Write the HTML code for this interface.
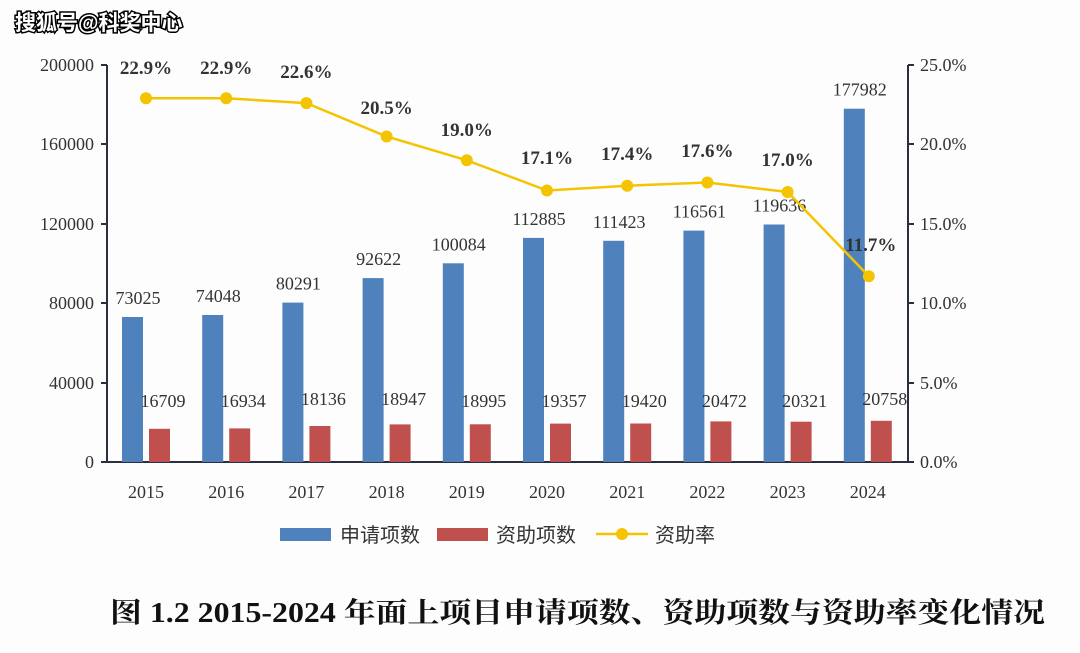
<!DOCTYPE html>
<html><head><meta charset="utf-8"><style>
body{margin:0;background:#fff;}
svg{display:block;}
</style></head><body>
<svg width="1080" height="653" xmlns="http://www.w3.org/2000/svg" font-family="'Liberation Serif','Noto Serif CJK SC',serif">
<rect width="1080" height="653" fill="#fdfdfd"/>
<text x="15" y="30" font-family="'Liberation Sans','Noto Sans CJK SC',sans-serif" font-size="21" font-weight="bold" fill="#fff" stroke="#000" stroke-width="3" paint-order="stroke">搜狐号@科奖中心</text>
<g stroke="#2b3040" stroke-width="2" fill="none">
<path d="M107,65 V462 H908 V65"/>
<path d="M101,65H107M101,144H107M101,224H107M101,303H107M101,383H107M101,462H107"/>
<path d="M908,65H914M908,144H914M908,224H914M908,303H914M908,383H914M908,462H914"/>
</g>
<g font-size="18" fill="#333" text-anchor="end">
<text x="94" y="71">200000</text><text x="94" y="150">160000</text><text x="94" y="230">120000</text>
<text x="94" y="309">80000</text><text x="94" y="389">40000</text><text x="94" y="468">0</text>
</g>
<g font-size="18" fill="#333">
<text x="920" y="71">25.0%</text><text x="920" y="150">20.0%</text><text x="920" y="230">15.0%</text>
<text x="920" y="309">10.0%</text><text x="920" y="389">5.0%</text><text x="920" y="468">0.0%</text>
</g>
<g fill="#4f81bd">
<rect x="122" y="317" width="21" height="145"/>
<rect x="202.2" y="315" width="21" height="147"/>
<rect x="282.4" y="302.6" width="21" height="159.4"/>
<rect x="362.6" y="278.1" width="21" height="183.9"/>
<rect x="442.8" y="263.3" width="21" height="198.7"/>
<rect x="523" y="237.9" width="21" height="224.1"/>
<rect x="603.2" y="240.8" width="21" height="221.2"/>
<rect x="683.4" y="230.6" width="21" height="231.4"/>
<rect x="763.6" y="224.5" width="21" height="237.5"/>
<rect x="843.8" y="108.7" width="21" height="353.3"/>
</g>
<g fill="#c0504d">
<rect x="149" y="428.8" width="21" height="33.2"/>
<rect x="229.2" y="428.4" width="21" height="33.6"/>
<rect x="309.4" y="426" width="21" height="36"/>
<rect x="389.6" y="424.4" width="21" height="37.6"/>
<rect x="469.8" y="424.3" width="21" height="37.7"/>
<rect x="550" y="423.6" width="21" height="38.4"/>
<rect x="630.2" y="423.5" width="21" height="38.5"/>
<rect x="710.4" y="421.4" width="21" height="40.6"/>
<rect x="790.6" y="421.7" width="21" height="40.3"/>
<rect x="870.8" y="420.8" width="21" height="41.2"/>
</g>
<g font-size="18" fill="#333" text-anchor="middle">
<text x="138" y="304">73025</text>
<text x="218.2" y="302">74048</text>
<text x="298.4" y="289.6">80291</text>
<text x="378.6" y="265.1">92622</text>
<text x="458.8" y="250.3">100084</text>
<text x="539" y="224.9">112885</text>
<text x="619.2" y="227.8">111423</text>
<text x="699.4" y="217.6">116561</text>
<text x="779.6" y="211.5">119636</text>
<text x="859.8" y="95.7">177982</text>
<text x="163" y="407">16709</text>
<text x="243.2" y="407">16934</text>
<text x="323.4" y="405">18136</text>
<text x="403.6" y="405">18947</text>
<text x="483.8" y="407">18995</text>
<text x="564" y="407">19357</text>
<text x="644.2" y="407">19420</text>
<text x="724.4" y="407">20472</text>
<text x="804.6" y="407">20321</text>
<text x="884.8" y="405">20758</text>
<text x="146" y="498">2015</text>
<text x="226.2" y="498">2016</text>
<text x="306.4" y="498">2017</text>
<text x="386.6" y="498">2018</text>
<text x="466.8" y="498">2019</text>
<text x="547" y="498">2020</text>
<text x="627.2" y="498">2021</text>
<text x="707.4" y="498">2022</text>
<text x="787.6" y="498">2023</text>
<text x="867.8" y="498">2024</text>
</g>
<polyline points="146,98.3 226.2,98.3 306.4,103.1 386.6,136.5 466.8,160.3 547,190.5 627.2,185.7 707.4,182.5 787.6,192 868.8,276.2" fill="none" stroke="#f5c400" stroke-width="2.5"/>
<g fill="#f5c400">
<circle cx="146" cy="98.3" r="6"/><circle cx="226.2" cy="98.3" r="6"/><circle cx="306.4" cy="103.1" r="6"/>
<circle cx="386.6" cy="136.5" r="6"/><circle cx="466.8" cy="160.3" r="6"/><circle cx="547" cy="190.5" r="6"/>
<circle cx="627.2" cy="185.7" r="6"/><circle cx="707.4" cy="182.5" r="6"/><circle cx="787.6" cy="192" r="6"/>
<circle cx="868.8" cy="276.2" r="6"/>
</g>
<g font-size="19" font-weight="bold" fill="#333" text-anchor="middle">
<text x="146" y="74">22.9%</text>
<text x="226.2" y="74">22.9%</text>
<text x="306.4" y="78">22.6%</text>
<text x="386.6" y="114">20.5%</text>
<text x="466.8" y="136">19.0%</text>
<text x="547" y="164">17.1%</text>
<text x="627.2" y="160">17.4%</text>
<text x="707.4" y="157">17.6%</text>
<text x="787.6" y="166">17.0%</text>
<text x="870.8" y="251">11.7%</text>
</g>
<rect x="280" y="528" width="51" height="13" fill="#4f81bd"/>
<text x="340" y="542" font-size="20" fill="#333" font-family="'Liberation Sans','Noto Sans CJK SC',sans-serif">申请项数</text>
<rect x="437" y="528" width="51" height="13" fill="#c0504d"/>
<text x="496" y="542" font-size="20" fill="#333" font-family="'Liberation Sans','Noto Sans CJK SC',sans-serif">资助项数</text>
<line x1="596" y1="534" x2="648" y2="534" stroke="#f5c400" stroke-width="2.5"/>
<circle cx="622" cy="534" r="6" fill="#f5c400"/>
<text x="655" y="542" font-size="20" fill="#333" font-family="'Liberation Sans','Noto Sans CJK SC',sans-serif">资助率</text>
<text x="110" y="622" font-size="28" font-weight="bold" fill="#111" textLength="935" lengthAdjust="spacingAndGlyphs">图 1.2 2015-2024 年面上项目申请项数、资助项数与资助率变化情况</text>
</svg>
</body></html>
